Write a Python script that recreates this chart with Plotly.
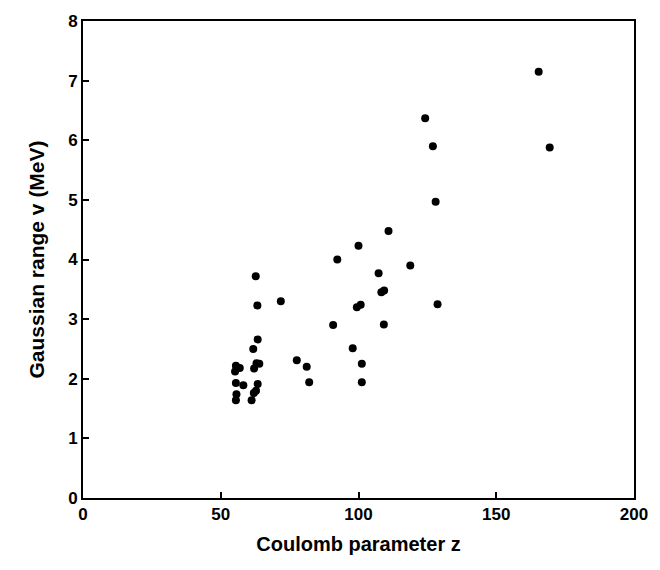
import plotly.graph_objects as go

z = [165.4, 124.2, 127.0, 169.4, 128.0, 110.9, 100.0, 92.3, 118.8, 107.3,
     108.3, 109.3, 71.8, 128.7, 99.4, 100.8, 90.8, 109.2, 97.9, 77.6,
     81.2, 101.2, 82.1, 101.2,
     62.7, 63.3, 63.4, 61.8, 55.5, 56.9, 55.2, 63.0, 62.1, 64.0,
     55.5, 58.2, 63.4, 62.8, 62.0, 55.7, 55.5, 61.2]
v = [7.15, 6.37, 5.90, 5.88, 4.97, 4.48, 4.23, 4.00, 3.90, 3.77,
     3.45, 3.48, 3.30, 3.25, 3.20, 3.24, 2.90, 2.91, 2.51, 2.31,
     2.20, 2.25, 1.94, 1.94,
     3.72, 3.23, 2.66, 2.50, 2.22, 2.18, 2.12, 2.26, 2.17, 2.25,
     1.93, 1.89, 1.91, 1.80, 1.76, 1.74, 1.64, 1.64]

x_ticks = [0, 50, 100, 150, 200]
y_ticks = [0, 1, 2, 3, 4, 5, 6, 7, 8]

fig = go.Figure(go.Scatter(x=z, y=v, mode="markers",
                           marker=dict(color="black", size=8)))

FAM = "Liberation Sans, Arial, sans-serif"
axis_common = dict(showgrid=False, zeroline=False, showline=True, linecolor="black",
                   linewidth=2, mirror=True, ticks="inside", ticklen=6,
                   tickwidth=1.5, tickcolor="black",
                   tickfont=dict(size=17, family=FAM, color="black"))

fig.update_layout(
    width=660, height=570,
    margin=dict(l=83, r=17, t=16, b=72),
    paper_bgcolor="white", plot_bgcolor="white",
    showlegend=False, font=dict(family=FAM, color="black"),
    xaxis=dict(range=[0, 200], tickvals=x_ticks,
               ticktext=[f"<b>{t}</b>" for t in x_ticks],
               title=dict(text="<b>Coulomb parameter z</b>", font=dict(size=20), standoff=14),
               **axis_common),
    yaxis=dict(range=[0, 8], tickvals=y_ticks,
               ticktext=[f"<b>{t}</b>" for t in y_ticks],
               title=dict(text="<b>Gaussian range v (MeV)</b>", font=dict(size=21), standoff=18),
               **axis_common),
)

fig.write_html("out.html")
